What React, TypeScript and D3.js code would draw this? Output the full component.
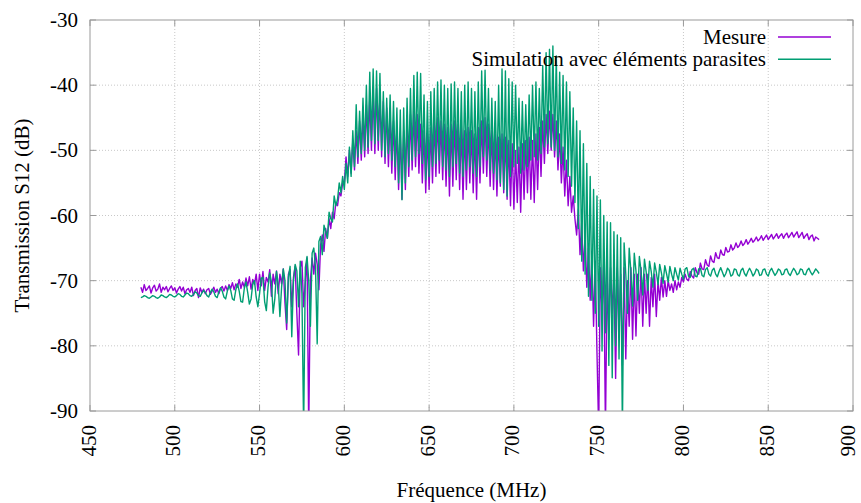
import React from "react";
import * as d3 from "d3";

// Frequency sampling grid (MHz)
const freqStart = 480;
const freqStep = 1;

// Mesure (dB), 480..880 MHz, 1 MHz step
const mesure: number[] = [
  -71.0,-71.8,-70.6,-71.5,-71.2,-70.8,-71.9,-71.1,-70.7,-71.6,
  -71.3,-70.5,-71.8,-71.0,-71.4,-70.9,-71.7,-71.2,-70.8,-71.5,
  -71.1,-71.9,-71.3,-70.9,-71.6,-71.0,-72.0,-71.4,-71.2,-71.8,
  -71.0,-72.3,-71.5,-71.2,-72.6,-71.1,-71.8,-71.3,-72.0,-71.4,
  -71.2,-72.1,-71.6,-71.0,-71.8,-71.3,-72.0,-71.2,-70.9,-71.6,
  -70.8,-71.5,-70.6,-71.2,-70.3,-71.4,-70.5,-71.0,-69.8,-71.2,
  -70.2,-71.0,-69.6,-70.8,-69.4,-71.3,-69.8,-70.6,-69.0,-71.5,
  -69.0,-70.8,-68.6,-71.5,-69.5,-70.2,-68.3,-72.4,-69.0,-70.5,
  -68.5,-72.0,-69.0,-70.5,-68.2,-73.5,-77.5,-69.0,-68.3,-74.0,
  -69.5,-67.8,-75.0,-81.4,-68.0,-67.0,-74.0,-70.0,-66.5,-93.0,
  -70.0,-66.5,-69.0,-65.8,-67.5,-71.4,-64.5,-63.0,-65.5,-62.0,
  -63.5,-60.5,-62.0,-59.5,-60.5,-58.0,-58.5,-56.5,-57.0,-55.0,
  -55,-51,-54,-50,-53.5,-48.5,-53,-47,-52,-45.5,
  -51.5,-44.5,-51,-43,-50.5,-42,-50,-41,-50.5,-40.5,
  -50,-41.5,-51,-42.5,-52,-43.5,-52.5,-44.5,-53.5,-45.5,
  -54.5,-46.5,-56,-47.5,-57.5,-47,-56,-45.5,-54,-44.5,
  -53,-44,-52.5,-44.5,-53.5,-46,-55,-47,-56.5,-47.5,
  -56,-46.5,-55,-45.5,-54,-45,-53.5,-45.5,-54.5,-46,
  -55.5,-46.5,-57,-46,-55.5,-45.5,-54.5,-46,-56,-46.5,
  -57.5,-47,-56,-46.5,-55,-47,-56.5,-47.5,-57.5,-46.5,
  -55,-45.5,-53.5,-45,-54,-46,-55.5,-47,-56,-47.5,
  -57,-48,-55.5,-47.5,-56.5,-48,-57.5,-48.5,-58.5,-49,
  -59,-50,-58,-49.5,-59.5,-49,-57.5,-48.5,-56.5,-48,
  -57.5,-48.5,-58,-47.5,-56,-46.5,-54,-45.5,-52,-44.5,
  -50.5,-44,-50,-44.5,-51,-45.5,-53,-47.5,-55,-49.5,
  -57,-51.5,-58.5,-54,-59.5,-57,-60.5,-63,-59,-66,
  -61,-68.5,-63,-71,-65,-73,-66,-77,-67,-81,
  -93,-68,-75,-67,-93,-69,-79,-68,-75,-69,
  -85,-68,-78,-69,-83,-68,-82,-70,-77,-68,
  -79,-69,-78.5,-69,-75,-68,-77,-69,-75,-69,
  -77,-69.5,-74,-69,-75.5,-70,-73,-69.5,-72.5,-70,
  -72.4,-70,-71.5,-70.5,-71.8,-70,-71.4,-70.2,-71,-69.5,
  -70.2,-69.0,-69.8,-70.0,-68.6,-69.3,-69.6,-68.0,-68.8,-69.0,
  -67.3,-68.2,-68.3,-66.8,-67.6,-67.8,-66.2,-67.0,-67.2,-65.7,
  -66.5,-66.6,-65.3,-66.0,-66.1,-64.9,-65.6,-65.5,-64.5,-65.3,
  -65.0,-64.2,-64.9,-64.6,-63.9,-64.6,-64.3,-63.7,-64.4,-64.0,
  -63.5,-64.1,-63.8,-63.3,-63.9,-63.6,-63.1,-63.8,-63.4,-63.0,
  -63.7,-63.3,-62.9,-63.6,-63.2,-62.8,-63.5,-63.1,-62.8,-63.5,
  -63.0,-62.7,-63.4,-63.0,-62.6,-63.3,-62.9,-62.5,-63.4,-63.0,
  -62.6,-63.5,-63.1,-62.8,-63.7,-63.2,-63.0,-63.9,-63.3,-63.5,
  -63.7,
];

// Simulation avec éléments parasites (dB), 480..880 MHz, 1 MHz step
const simulation: number[] = [
  -72.6,-72.5,-72.3,-72.4,-72.6,-72.7,-72.5,-72.3,-72.4,-72.6,
  -72.7,-72.5,-72.2,-72.3,-72.5,-72.6,-72.4,-72.1,-72.2,-72.4,
  -72.5,-72.3,-72.0,-72.1,-72.4,-72.5,-72.2,-71.9,-72.0,-72.3,
  -72.4,-72.1,-71.7,-71.9,-72.3,-72.4,-71.9,-71.5,-71.8,-72.3,
  -72.5,-71.8,-71.3,-71.7,-72.4,-72.6,-71.7,-71.1,-71.6,-72.5,
  -72.8,-71.6,-70.8,-71.5,-72.8,-73.0,-71.4,-70.5,-71.6,-73.2,
  -73.3,-71.2,-70.2,-71.8,-73.6,-72.8,-70.5,-70.0,-72.5,-74.0,
  -72.0,-69.6,-69.5,-73.2,-74.6,-71.0,-68.8,-70.2,-75.0,-72.8,
  -68.6,-70.5,-75.5,-71.0,-68.2,-70.0,-76.5,-69.5,-67.8,-78.6,
  -70.0,-67.5,-68.5,-74.0,-67.0,-72.0,-93.0,-68.0,-66.3,-70.0,
  -77.0,-65.8,-65.0,-68.0,-79.7,-64.0,-63.2,-66.0,-61.5,-62.5,
  -63.5,-59.5,-60.5,-61.0,-57.0,-58.5,-57.5,-55.0,-56.5,-54.0,
  -56,-52,-55,-49.5,-54,-47,-52.5,-43,-51,-44,
  -50.5,-42,-50,-40,-49.5,-38,-48.5,-37.5,-49,-37.8,
  -48.5,-38.2,-50,-41,-51,-42,-50.5,-41.5,-51.5,-42.5,
  -52.5,-43.5,-55,-43.8,-57.6,-43.5,-55,-42,-52.5,-40.5,
  -51.5,-38.5,-51,-38,-50.5,-38.2,-52,-41.5,-54.5,-42.5,
  -54,-41,-52.5,-40.5,-52,-39.5,-51.5,-39.2,-52.5,-40,
  -53,-40.5,-54,-39.8,-52.5,-39.5,-52,-40.5,-53.5,-41,
  -54,-40,-53,-39.5,-52.5,-40.5,-53.5,-41,-54,-39.5,
  -52.5,-37.8,-51,-37.7,-51.5,-40.5,-53,-42,-53.5,-42.5,
  -54.5,-40,-55,-37.5,-56,-37.8,-57,-39,-54,-39.5,
  -52.5,-40,-52,-42,-53.5,-42.5,-53,-43,-52.5,-41.5,
  -51.5,-40,-51,-39.5,-51.5,-40.5,-50.5,-37,-49.5,-35,
  -49,-34.5,-49.5,-34,-50,-35.5,-51,-38,-52,-38.5,
  -53,-39.5,-54,-41,-55.5,-43.5,-58,-45.5,-62,-47,
  -67,-49,-69,-52,-72.4,-54,-73,-56,-75,-57,
  -77,-57.6,-80.8,-60,-78,-61,-83,-61.1,-84.9,-62.5,
  -80,-63,-82,-63.4,-93,-64.2,-69,-75,-65,-68.5,
  -73.9,-65.8,-68.5,-73,-66.3,-68.5,-72.2,-66.7,-68.6,-71.5,
  -67,-68.6,-71.0,-67.3,-68.7,-70.6,-67.5,-68.8,-70.4,-67.7,
  -68.9,-70.2,-67.8,-69,-70,-68,-69,-69.9,-68.1,-69,
  -69.8,-68.2,-68.0,-69.3,-69.5,-68.3,-68.1,-69.3,-69.4,-68.2,
  -68.1,-69.2,-69.4,-68.3,-68.0,-69.0,-69.3,-68.4,-68.1,-69.0,
  -69.4,-68.6,-68.0,-68.7,-69.4,-68.9,-68.1,-68.4,-69.3,-69.1,
  -68.2,-68.3,-69.1,-69.3,-68.4,-68.1,-68.9,-69.3,-68.6,-68.1,
  -68.6,-69.3,-68.9,-68.2,-68.4,-69.2,-69.1,-68.3,-68.2,-69.0,
  -69.3,-68.5,-68.1,-68.7,-69.2,-68.8,-68.2,-68.4,-69.1,-69.0,
  -68.3,-68.2,-68.9,-69.2,-68.6,-68.1,-68.5,-69.1,-68.9,-68.2,
  -68.3,-69.0,-69.1,-68.4,-68.1,-68.7,-69.1,-68.7,-68.2,-68.5,
  -68.9,
];

const xTicks = [450, 500, 550, 600, 650, 700, 750, 800, 850, 900];
const yTicks = [-90, -80, -70, -60, -50, -40, -30];
const seriesNames = ["Mesure", "Simulation avec éléments parasites"];
const seriesColors = ["#9400d3", "#009e73"];

const W = 861;
const H = 503;
const M = { left: 90, right: 853, top: 20, bottom: 411 };
const FONT = "'Liberation Serif', 'DejaVu Serif', serif";
const FS = 21;

export default function App() {
  const x = d3.scaleLinear().domain([450, 900]).range([M.left, M.right]);
  const y = d3.scaleLinear().domain([-90, -30]).range([M.bottom, M.top]);
  const line = d3
    .line<number>()
    .x((_, i) => x(freqStart + i * freqStep))
    .y((d) => y(d));
  const series = [mesure, simulation];
  const tickLen = 6;
  const gridColor = "#c8c8c8";
  const axisColor = "#9a9a9a";

  return (
    <svg
      width={W}
      height={H}
      style={{ position: "absolute", left: 0, top: 0, background: "#fff", fontFamily: FONT }}
    >
      <defs>
        <clipPath id="plotClip">
          <rect x={M.left} y={M.top} width={M.right - M.left} height={M.bottom - M.top} />
        </clipPath>
      </defs>
      {/* grid */}
      <g stroke={gridColor} strokeWidth={1} strokeDasharray="1,2">
        {xTicks.slice(1, -1).map((t) => (
          <line key={"gx" + t} x1={x(t)} x2={x(t)} y1={M.top} y2={M.bottom} />
        ))}
        {yTicks.slice(1, -1).map((t) => (
          <line key={"gy" + t} x1={M.left} x2={M.right} y1={y(t)} y2={y(t)} />
        ))}
      </g>
      {/* ticks */}
      <g stroke={axisColor} strokeWidth={1}>
        {xTicks.map((t) => (
          <g key={"tx" + t}>
            <line x1={x(t)} x2={x(t)} y1={M.bottom} y2={M.bottom - tickLen} />
            <line x1={x(t)} x2={x(t)} y1={M.top} y2={M.top + tickLen} />
          </g>
        ))}
        {yTicks.map((t) => (
          <g key={"ty" + t}>
            <line x1={M.left} x2={M.left + tickLen} y1={y(t)} y2={y(t)} />
            <line x1={M.right} x2={M.right - tickLen} y1={y(t)} y2={y(t)} />
          </g>
        ))}
      </g>
      {/* data */}
      <g clipPath="url(#plotClip)" fill="none" strokeWidth={1.4} strokeLinejoin="round">
        {series.map((s, k) => (
          <path key={k} d={line(s) || ""} stroke={seriesColors[k]} />
        ))}
      </g>
      {/* border */}
      <rect
        x={M.left}
        y={M.top}
        width={M.right - M.left}
        height={M.bottom - M.top}
        fill="none"
        stroke={axisColor}
        strokeWidth={1}
      />
      {/* y tick labels */}
      <g fontSize={FS} fill="#000" textAnchor="end">
        {yTicks.map((t) => (
          <text key={"ly" + t} x={M.left - 12} y={y(t)} dominantBaseline="central">
            {t}
          </text>
        ))}
      </g>
      {/* x tick labels */}
      <g fontSize={FS} fill="#000" textAnchor="end">
        {xTicks.map((t) => (
          <text
            key={"lx" + t}
            transform={`translate(${Math.min(x(t) - 1.5, W - 13)},${M.bottom + 14}) rotate(-90)`}
            dominantBaseline="central"
          >
            {t}
          </text>
        ))}
      </g>
      {/* axis titles */}
      <text
        x={(M.left + M.right) / 2}
        y={497}
        fontSize={FS}
        textAnchor="middle"
        fill="#000"
      >
        Fréquence (MHz)
      </text>
      <text
        transform={`translate(22,${(M.top + M.bottom) / 2}) rotate(-90)`}
        fontSize={FS}
        textAnchor="middle"
        dominantBaseline="central"
        fill="#000"
      >
        Transmission S12 (dB)
      </text>
      {/* legend */}
      {seriesNames.map((name, k) => (
        <g key={"lg" + k}>
          <text
            x={766}
            y={37 + k * 22.3}
            fontSize={FS}
            textAnchor="end"
            dominantBaseline="central"
            fill="#000"
          >
            {name}
          </text>
          <line
            x1={778}
            x2={831}
            y1={37 + k * 22.3}
            y2={37 + k * 22.3}
            stroke={seriesColors[k]}
            strokeWidth={1.4}
          />
        </g>
      ))}
    </svg>
  );
}
